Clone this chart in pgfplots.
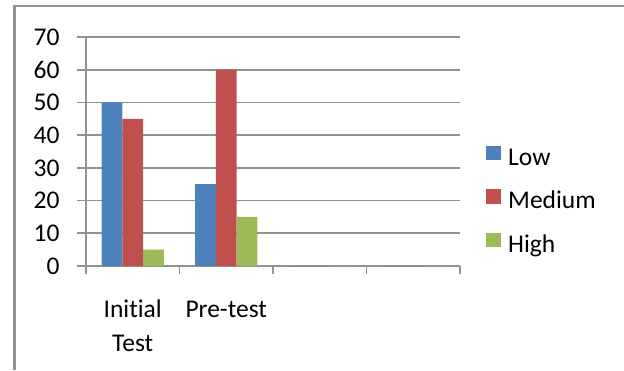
\documentclass[border=0pt]{standalone}
\usepackage{fontspec}
\setmainfont{Carlito}[Ligatures=NoCommon]
\usepackage{pgfplots}
\pgfplotsset{compat=1.18}
\definecolor{xlblue}{HTML}{4F81BD}
\definecolor{xlred}{HTML}{C0504D}
\definecolor{xlgreen}{HTML}{9BBB59}
\definecolor{xlgrid}{HTML}{929292}
\begin{document}
\begin{tikzpicture}[x=1pt,y=1pt]
\draw[xlgrid, line width=2.6pt] (14.3,0) -- (14.3,364);
\draw[xlgrid, line width=1.8pt] (13,364) -- (624,364);
\begin{axis}[
  at={(86pt,104pt)}, anchor=south west,
  scale only axis, width=374pt, height=229pt,
  /pgf/number format/assume math mode=true,
  font=\fontsize{25}{34}\selectfont,
  ybar=0pt, bar width=20.7pt,
  xmin=-0.5, xmax=3.5, ymin=0, ymax=70,
  axis x line*=bottom, axis y line*=left,
  axis line style={xlgrid, line width=1.6pt, -},
  ytick={0,10,...,70},
  ymajorgrids, grid style={xlgrid, line width=1.6pt},
  xtick={0,1,2,3},
  xticklabels={{\strut Initial\\\strut Test},{\strut Pre-test},{},{}},
  major x tick style={draw=none},
  minor xtick={-0.5,0.5,1.5,2.5,3.5},
  minor x tick style={xlgrid, line width=1.6pt},
  tick style={xlgrid, line width=1.6pt},
  tick align=outside,
  major tick length=9pt, minor tick length=8pt,
  xticklabel style={align=center, anchor=north, font=\fontsize{25.5}{34}\selectfont, yshift=-15pt},
  yticklabel style={font=\fontsize{25.5}{30}\selectfont, xshift=-14pt},
  legend style={at={(1,0.28)}, anchor=west, xshift=23pt, draw=none, fill=none,
    font=\fontsize{25.5}{30}\selectfont,
    nodes={inner sep=0pt, text height=18pt, text depth=6pt},
    row sep=18pt, /tikz/every odd column/.style={column sep=7pt}},
  legend cell align=left,
  legend image code/.code={\fill[#1] (0pt,-1pt) rectangle (15pt,13.5pt);},
]
\addplot[fill=xlblue, draw=none] coordinates {(0,50) (1,25) (2,0) (3,0)};
\addplot[fill=xlred, draw=none] coordinates {(0,45) (1,60) (2,0) (3,0)};
\addplot[fill=xlgreen, draw=none] coordinates {(0,5) (1,15) (2,0) (3,0)};
\legend{Low,Medium,High}
\end{axis}
\pgfresetboundingbox
\useasboundingbox (0,0) rectangle (624,370);
\end{tikzpicture}
\end{document}
